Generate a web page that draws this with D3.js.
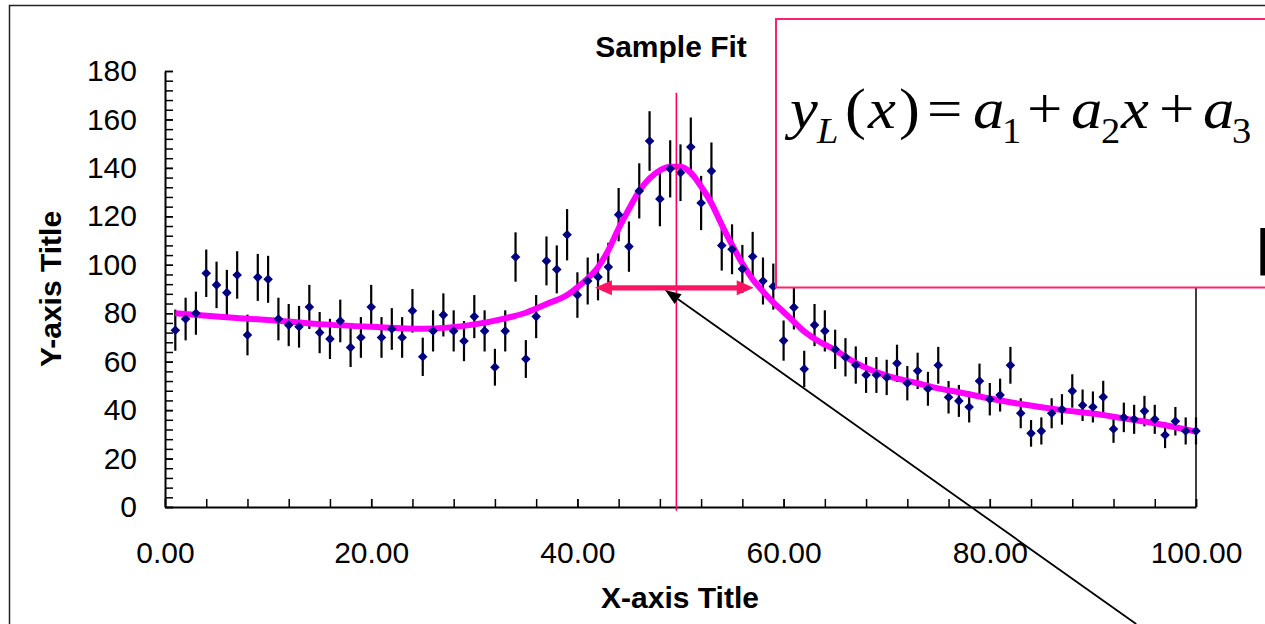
<!DOCTYPE html>
<html>
<head>
<meta charset="utf-8">
<script src="https://cdn.jsdelivr.net/npm/d3@7"></script>
<style>
body{margin:0;background:#fff;overflow:hidden}
text{font-family:"Liberation Sans",Arial,sans-serif}
</style>
</head>
<body>
<svg id="chart" width="1265" height="624"></svg>
<script>
// measured points (x, counts, error)
const xVals=[1,2,3,4,5,6,7,8,9,10,11,12,13,14,15,16,17,18,19,20,21,22,23,24,25,26,27,28,29,30,31,32,33,34,35,36,37,38,39,40,41,42,43,44,45,46,47,48,49,50,
51,52,53,54,55,56,57,58,59,60,61,62,63,64,65,66,67,68,69,70,71,72,73,74,75,76,77,78,79,80,81,82,83,84,85,86,87,88,89,90,91,92,93,94,95,96,97,98,99,100]
const yVals=[73,77.6,80,96.5,91.7,88.5,95.8,71,94.8,94,
77.6,75.1,74.4,82.6,72,69.4,76.8,65.9,70,82.6,
70,73.5,70,81,62,72.7,79.3,72.7,68.5,78.6,
72.7,57.7,72.7,103.2,61.1,78.6,101.6,98.1,112.4,87.5,
93.3,95,99.1,120.7,107.5,130.5,151.1,127.2,139.6,138,
148.6,125.5,138.7,108,106.4,98.3,103.4,93.3,91,68.7,
82.4,57,75.1,72.7,65.1,61.8,58.6,54.5,54.5,53.5,
59.3,51.1,56.2,48.8,58.5,45.3,43.8,41.3,52,44.5,
46.2,58.5,38.7,30.4,31.4,38.7,40.3,47.9,42,41.3,
45.4,32.2,37,36.2,39.6,36.2,29.7,35.4,31.4,31.4]
const yErr=[8.5,8.8,8.9,9.8,9.6,9.4,9.8,8.4,9.7,9.7,
8.8,8.7,8.6,9.1,8.5,8.3,8.8,8.1,8.4,9.1,
8.4,8.6,8.4,9,7.9,8.5,8.9,8.5,8.3,8.9,
8.5,7.6,8.5,10.2,7.8,8.9,10.1,9.9,10.6,9.4,
9.7,9.7,10,11,10.4,11.4,12.3,11.3,11.8,11.7,
12.2,11.2,11.8,10.4,10.3,9.9,10.2,9.7,9.5,8.3,
9.1,7.5,8.7,8.5,8.1,7.9,7.7,7.4,7.4,7.3,
7.7,7.1,7.5,7,7.6,6.7,6.6,6.4,7.2,6.7,
6.8,7.6,6.2,5.5,5.6,6.2,6.3,6.9,6.5,6.4,
6.7,5.7,6.1,6,6.3,6,5.4,5.9,5.6,5.6]

// fitted curve
const fitX=[1,5,10,15,20,25,30,33,35,37,39,40,41,42,43,44,45,46,47,48,49,50,51,52,53,54,55,56,57,58,59,60,61,62,63,65,67,70,73,75,77,80,83,87,90,93,96,100]
const fitY=[80,78.6,77.2,75.5,74.4,73.6,75.4,77.9,80.2,83.8,87.5,90.7,94.4,99,106,115,123,130.5,135.7,139,140.5,140.5,138,132.3,125.4,116.5,108.2,100.5,94,89,84.5,80.5,76.5,72.5,69.5,64.8,59.5,54.2,51.1,49,47.4,44.8,42.5,40,38.6,36.6,34.6,31.1]

// axes
const xMajor=[0,20,40,60,80,100]
const yMajor=[0,20,40,60,80,100,120,140,160,180]
const xMinor=d3.range(0,101,4)
const yMinor=d3.range(0,181,4)

// annotations (data units)
const peakX=49.6
const fwhmLeft=41.7, fwhmRight=57.1, halfMax=90.5

const svg=d3.select('#chart')
const x=d3.scaleLinear().domain([0,100]).range([165,1196])
const y=d3.scaleLinear().domain([0,180]).range([507,71])

// outer chart frame
svg.append('rect').attr('x',9.5).attr('y',5.5).attr('width',1400).attr('height',800)
  .attr('fill','#fff').attr('stroke','#222').attr('stroke-width',1.5)

// title
svg.append('text').attr('x',671).attr('y',57).attr('text-anchor','middle')
  .style('font-size','30px').style('font-weight','bold').text('Sample Fit')

// minor ticks
svg.append('g').attr('transform','translate(165,0)')
  .call(d3.axisLeft(y).tickValues(yMinor).tickSize(-8).tickFormat(''))
  .call(g=>g.select('.domain').remove())
svg.append('g').attr('transform','translate(0,507)')
  .call(d3.axisBottom(x).tickValues(xMinor).tickSize(-8).tickFormat(''))
  .call(g=>g.select('.domain').remove())

const yAxis=svg.append('g').attr('transform','translate(165,0)')
  .call(d3.axisLeft(y).tickValues(yMajor).tickSizeInner(-8).tickSizeOuter(0).tickPadding(28))
const xAxis=svg.append('g').attr('transform','translate(0,507)')
  .call(d3.axisBottom(x).tickValues(xMajor).tickSizeInner(-8).tickSizeOuter(0).tickPadding(35).tickFormat(d3.format('.2f')))

svg.selectAll('.tick line').attr('stroke','#000').attr('stroke-width',1.5)
svg.selectAll('.domain').attr('stroke','#000').attr('stroke-width',2)
svg.selectAll('.tick text').attr('fill','#000').style('font-size','30px')
  .style('font-family','"Liberation Sans",Arial,sans-serif')

// right border of plot
svg.append('line').attr('x1',x(100)).attr('x2',x(100)).attr('y1',y(0)).attr('y2',y(180))
  .attr('stroke','#000').attr('stroke-width',1.5)

// axis titles
svg.append('text').attr('x',680).attr('y',608).attr('text-anchor','middle')
  .style('font-size','30px').style('font-weight','bold').text('X-axis Title')
svg.append('text').attr('transform','translate(61,289) rotate(-90)').attr('text-anchor','middle')
  .style('font-size','30px').style('font-weight','bold').text('Y-axis Title')

const pts=xVals.map((d,i)=>({x:d,y:yVals[i],e:yErr[i]}))

// error bars
svg.selectAll('line.err').data(pts).enter().append('line').attr('class','err')
  .attr('x1',d=>x(d.x)).attr('x2',d=>x(d.x))
  .attr('y1',d=>y(d.y-d.e)).attr('y2',d=>y(d.y+d.e))
  .attr('stroke','#000').attr('stroke-width',2.2)

// fit line
const fit=fitX.map((d,i)=>[d,fitY[i]])
svg.append('path').datum(fit)
  .attr('d',d3.line().x(d=>x(d[0])).y(d=>y(d[1])).curve(d3.curveMonotoneX))
  .attr('fill','none').attr('stroke','#ff00ff').attr('stroke-width',6)
  .attr('stroke-linejoin','round')

// markers
svg.selectAll('path.pt').data(pts).enter().append('path').attr('class','pt')
  .attr('d',d3.symbol(d3.symbolSquare,46))
  .attr('transform',d=>'translate('+x(d.x)+','+y(d.y)+') rotate(45)')
  .attr('fill','#000080')

// peak position line
svg.append('line').attr('x1',x(peakX)).attr('x2',x(peakX)).attr('y1',y(-1.5)).attr('y2',y(171))
  .attr('stroke','#ff0066').attr('stroke-width',1.6)

// FWHM double arrow
const ax1=x(fwhmLeft), ax2=x(fwhmRight), ay=y(halfMax)
const hl=17, hw=7.5, sw=2.6
svg.append('path')
  .attr('d','M'+ax1+','+ay+'L'+(ax1+hl)+','+(ay-hw)+'L'+(ax1+hl)+','+(ay-sw)+'L'+(ax2-hl)+','+(ay-sw)
    +'L'+(ax2-hl)+','+(ay-hw)+'L'+ax2+','+ay+'L'+(ax2-hl)+','+(ay+hw)+'L'+(ax2-hl)+','+(ay+sw)
    +'L'+(ax1+hl)+','+(ay+sw)+'L'+(ax1+hl)+','+(ay+hw)+'Z')
  .attr('fill','#ff1464')

// formula box
svg.append('rect').attr('x',776).attr('y',19).attr('width',600).attr('height',268.5)
  .attr('fill','#fff').attr('stroke','#ff2070').attr('stroke-width',2)

const formula=[
  ['y',790,'it'],['L',817,'sub-it'],['(',845,''],['x',868,'it'],[')',899,''],['=',927,''],
  ['a',973,'it'],['1',1002,'sub'],['+',1027,''],['a',1071,'it'],['2',1101,'sub'],['x',1121,'it'],
  ['+',1159,''],['a',1203,'it'],['3',1232,'sub']]
formula.forEach(f=>{
  const sub=f[2].indexOf('sub')==0
  svg.append('text')
    .attr('transform','translate('+f[1]+','+(sub?143:128)+') scale(1.1,1)')
    .style('font-family','"Liberation Serif","Times New Roman",serif')
    .style('font-style',f[2].indexOf('it')>=0?'italic':'normal')
    .style('font-size',sub?'35px':'57px')
    .text(f[0])
})
svg.append('text').attr('x',1256).attr('y',268)
  .style('font-family','"Liberation Serif",serif').style('font-size','58px').style('font-weight','bold')
  .text('[')

// pointer arrow
const tx=x(48.5), ty=y(89.6), sx=x(94.2), sy=y(-48.3)
const ang=Math.atan2(ty-sy,tx-sx)
const bx=tx-16*Math.cos(ang), by=ty-16*Math.sin(ang)
svg.append('line').attr('x1',sx).attr('y1',sy).attr('x2',bx).attr('y2',by)
  .attr('stroke','#000').attr('stroke-width',1.8)
svg.append('path')
  .attr('d','M'+tx+','+ty+'L'+(bx+6*Math.sin(ang))+','+(by-6*Math.cos(ang))
    +'L'+(bx-6*Math.sin(ang))+','+(by+6*Math.cos(ang))+'Z')
  .attr('fill','#000')
</script>
</body>
</html>
